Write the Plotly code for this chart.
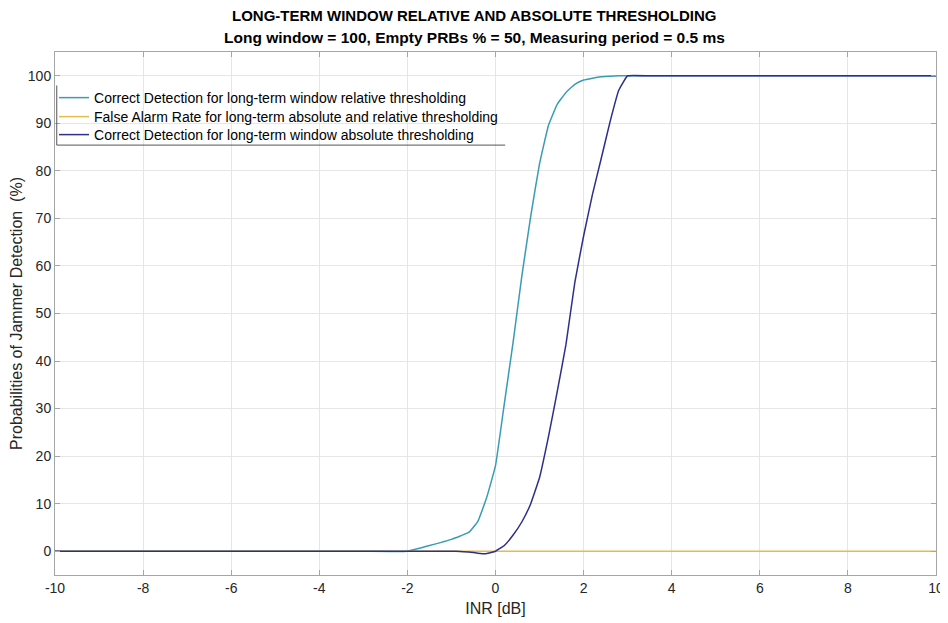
import plotly.graph_objects as go

inr_db = [-10, -9, -8, -7, -6, -5, -4, -3, -2, -1.5, -1.0, -0.8, -0.6, -0.4, -0.2, 0.0,
          0.2, 0.4, 0.6, 0.8, 1.0, 1.2, 1.4, 1.6, 1.8, 2.0, 2.2, 2.4, 2.6, 2.8, 3.0,
          3.5, 4, 5, 6, 7, 8, 9, 10]

cd_relative = [0, 0, 0, 0, 0, 0, 0, 0, 0, 1.2, 2.5, 3.2, 4.0, 6.3, 11.3, 18.0,
               31.0, 44.0, 58.0, 70.5, 81.5, 89.5, 94.0, 96.5, 98.2, 99.1, 99.5, 99.8, 99.9, 100, 100,
               100, 100, 100, 100, 100, 100, 100, 100]

false_alarm = [0] * len(inr_db)

cd_absolute = [0, 0, 0, 0, 0, 0, 0, 0, 0, 0, 0, -0.05, -0.15, -0.4, -0.5, 0.0,
               1.2, 3.4, 6.2, 10.0, 15.5, 24.0, 33.5, 43.5, 56.5, 66.3, 75.0, 82.6, 90.3, 97.0, 100,
               100, 100, 100, 100, 100, 100, 100, 100]

names = [
    "Correct Detection for long-term window relative thresholding",
    "False Alarm Rate for long-term absolute and relative thresholding",
    "Correct Detection for long-term window absolute thresholding",
]
colors = ["#3a9bb6", "#e2bd4c", "#2e2e8c"]
series = [cd_relative, false_alarm, cd_absolute]

x_ticks = [-10, -8, -6, -4, -2, 0, 2, 4, 6, 8, 10]
x_tick_text = ["-10", "-8", "-6", "-4", "-2", "0", "2", "4", "6", "8", "10"]
y_ticks = [0, 10, 20, 30, 40, 50, 60, 70, 80, 90, 100]

title_line1 = "LONG-TERM WINDOW RELATIVE AND ABSOLUTE THRESHOLDING"
title_line2 = "Long window = 100, Empty PRBs % = 50, Measuring period = 0.5 ms"

legend_ids = ["legend", "legend2", "legend3"]
legend_y = [0.912, 0.8757, 0.8413]

fig = go.Figure()
for n, c, s, lid in zip(names, colors, series, legend_ids):
    fig.add_trace(go.Scatter(x=inr_db, y=s, mode="lines", name=n, legend=lid,
                             line=dict(color=c, width=1.5, shape="spline", smoothing=0.3)))

axis_common = dict(
    showgrid=True, gridcolor="#e6e6e6", gridwidth=1,
    showline=True, linecolor="#a6a6a6", linewidth=1, mirror="ticks",
    ticks="inside", ticklen=5, tickcolor="#a6a6a6",
    tickfont=dict(family="Liberation Sans, Arial, sans-serif", size=14, color="#262626"),
    zeroline=False, automargin=False,
)

fig.update_xaxes(range=[-10, 10], tickvals=x_ticks, ticktext=x_tick_text,
                 title=dict(text="INR [dB]", font=dict(family="Liberation Sans, Arial", size=16, color="#262626"),
                            standoff=8),
                 **axis_common)
fig.update_yaxes(range=[-5, 105], tickvals=y_ticks,
                 title=dict(text="Probabilities of Jammer Detection  (%)",
                            font=dict(family="Liberation Sans, Arial", size=16, color="#262626"),
                            standoff=1),
                 **axis_common)

legend_common = dict(
    x=-0.0011, xanchor="left", yanchor="middle",
    bgcolor="rgba(255,255,255,0)", borderwidth=0,
    font=dict(family="Liberation Sans, Arial", size=14, color="#000000"),
    itemwidth=30,
)

# page body has an 8px margin, so the figure is sized to fit the 948x623 window
fig.update_layout(
    width=940, height=615,
    margin=dict(l=47, r=12, t=44, b=48, autoexpand=False),
    paper_bgcolor="white", plot_bgcolor="white",
    legend=dict(y=legend_y[0], **legend_common),
    legend2=dict(y=legend_y[1], **legend_common),
    legend3=dict(y=legend_y[2], **legend_common),
    showlegend=True,
)

# white background box behind legend, with left and bottom frame edges as in reference
fig.add_shape(type="rect", xref="paper", yref="paper", x0=0.002, x1=0.511, y0=0.822, y1=0.936,
              fillcolor="white", line=dict(width=0), layer="below")
fig.add_shape(type="line", xref="paper", yref="paper", x0=0.002, x1=0.002, y0=0.822, y1=0.936,
              line=dict(color="#555555", width=1))
fig.add_shape(type="line", xref="paper", yref="paper", x0=0.002, x1=0.511, y0=0.822, y1=0.822,
              line=dict(color="#555555", width=1))

fig.add_annotation(text="<b>" + title_line1 + "</b>", xref="paper", yref="paper",
                   x=0.4756, y=1.069, xanchor="center", yanchor="middle", showarrow=False,
                   font=dict(family="Liberation Sans, Arial", size=15, color="#000000"))
fig.add_annotation(text="<b>" + title_line2 + "</b>", xref="paper", yref="paper",
                   x=0.4756, y=1.027, xanchor="center", yanchor="middle", showarrow=False,
                   font=dict(family="Liberation Sans, Arial", size=15.5, color="#000000"))

fig.write_html("out.html")
